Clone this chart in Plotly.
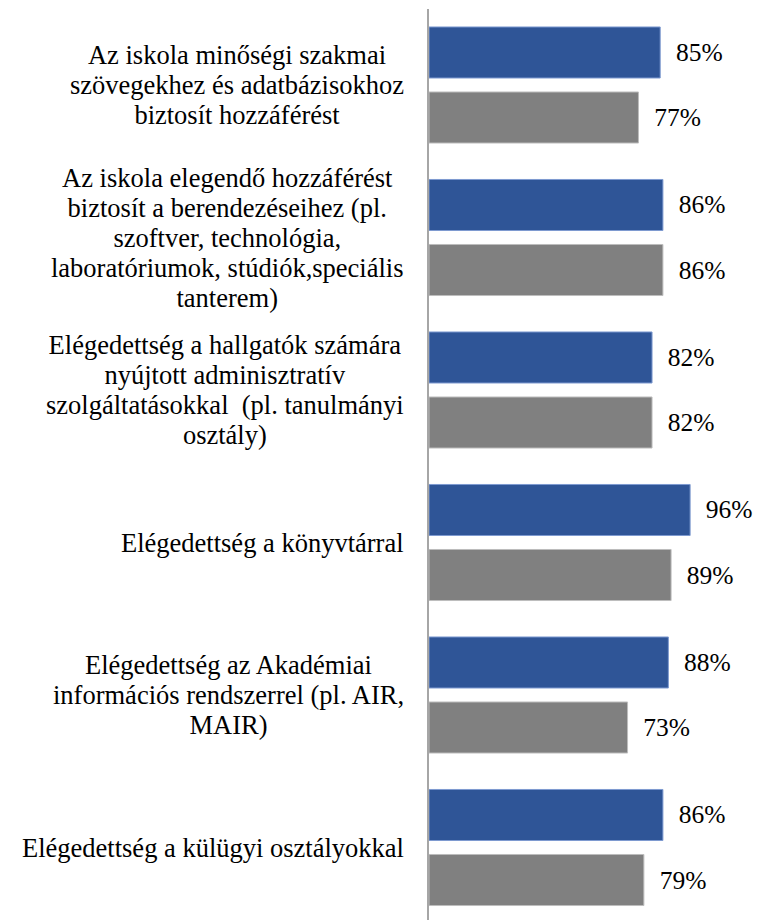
import plotly.graph_objects as go

# ---- data ----
categories = [
    "Az iskola minőségi szakmai\nszövegekhez és adatbázisokhoz\nbiztosít hozzáférést",
    "Az iskola elegendő hozzáférést\nbiztosít a berendezéseihez (pl.\nszoftver, technológia,\nlaboratóriumok, stúdiók,speciális\ntanterem)",
    "Elégedettség a hallgatók számára\nnyújtott adminisztratív\nszolgáltatásokkal \u00a0(pl. tanulmányi\nosztály)",
    "Elégedettség a könyvtárral",
    "Elégedettség az Akadémiai\ninformációs rendszerrel (pl. AIR,\nMAIR)",
    "Elégedettség a külügyi osztályokkal",
]
series_blue = [85, 86, 82, 96, 88, 86]
series_gray = [77, 86, 82, 89, 73, 79]

# ---- layout constants (page body has an 8px margin) ----
W, H = 771, 912
ML, MR, MT, MB = 421, 0, 1, 0
PW, PH = W - ML - MR, H - MT - MB
PX_PER_UNIT = 2.72
FONT = '"Liberation Serif", "Times New Roman", Times, serif'

cat_keys = [c.replace("\n", " ") for c in categories]

fig = go.Figure()
for vals, color, lcolor in [
    (series_blue, "#2F5597", "#7E9AD0"),
    (series_gray, "#808080", "#BDBDBD"),
]:
    fig.add_trace(go.Bar(
        x=vals, y=cat_keys, orientation="h",
        marker=dict(color=color, line=dict(color=lcolor, width=1)),
        texttemplate="\u00a0\u00a0%{x}%", textposition="outside",
        textfont=dict(family=FONT, size=25.5, color="#000000"),
        constraintext="none", cliponaxis=False,
        hoverinfo="skip", showlegend=False,
    ))

annotations = []
for key, label in zip(cat_keys, categories):
    lines = label.split("\n")
    txt = "<br>".join(f"<span style='font-size:26.5px'>{ln}</span>" for ln in lines)
    annotations.append(dict(
        xref="paper", yref="y", x=0, y=key, xshift=-23,
        xanchor="right", yanchor="middle", align="center",
        text=txt, showarrow=False,
        font=dict(family=FONT, size=23, color="#000000"),
    ))

n = len(categories)
# category centres sit at page y 85 ... 847.5 (152.5 px apart)
top_pad = (85 - 8 - MT) / 152.5
bot_pad = (H + 8 - MB - 847.5) / 152.5

fig.update_layout(
    width=W, height=H,
    margin=dict(l=ML, r=MR, t=MT, b=MB, pad=0),
    paper_bgcolor="white", plot_bgcolor="white",
    barmode="group", bargap=0.1475, bargroupgap=0.215,
    xaxis=dict(range=[0, PW / PX_PER_UNIT], visible=False, fixedrange=True),
    yaxis=dict(
        type="category", categoryorder="array", categoryarray=cat_keys,
        range=[n - 1 + bot_pad, -top_pad],
        showticklabels=False, ticks="", showgrid=False, zeroline=False,
        showline=True, linecolor="#A6A6A6", linewidth=2,
    ),
    annotations=annotations,
)

fig.write_html("out.html")
